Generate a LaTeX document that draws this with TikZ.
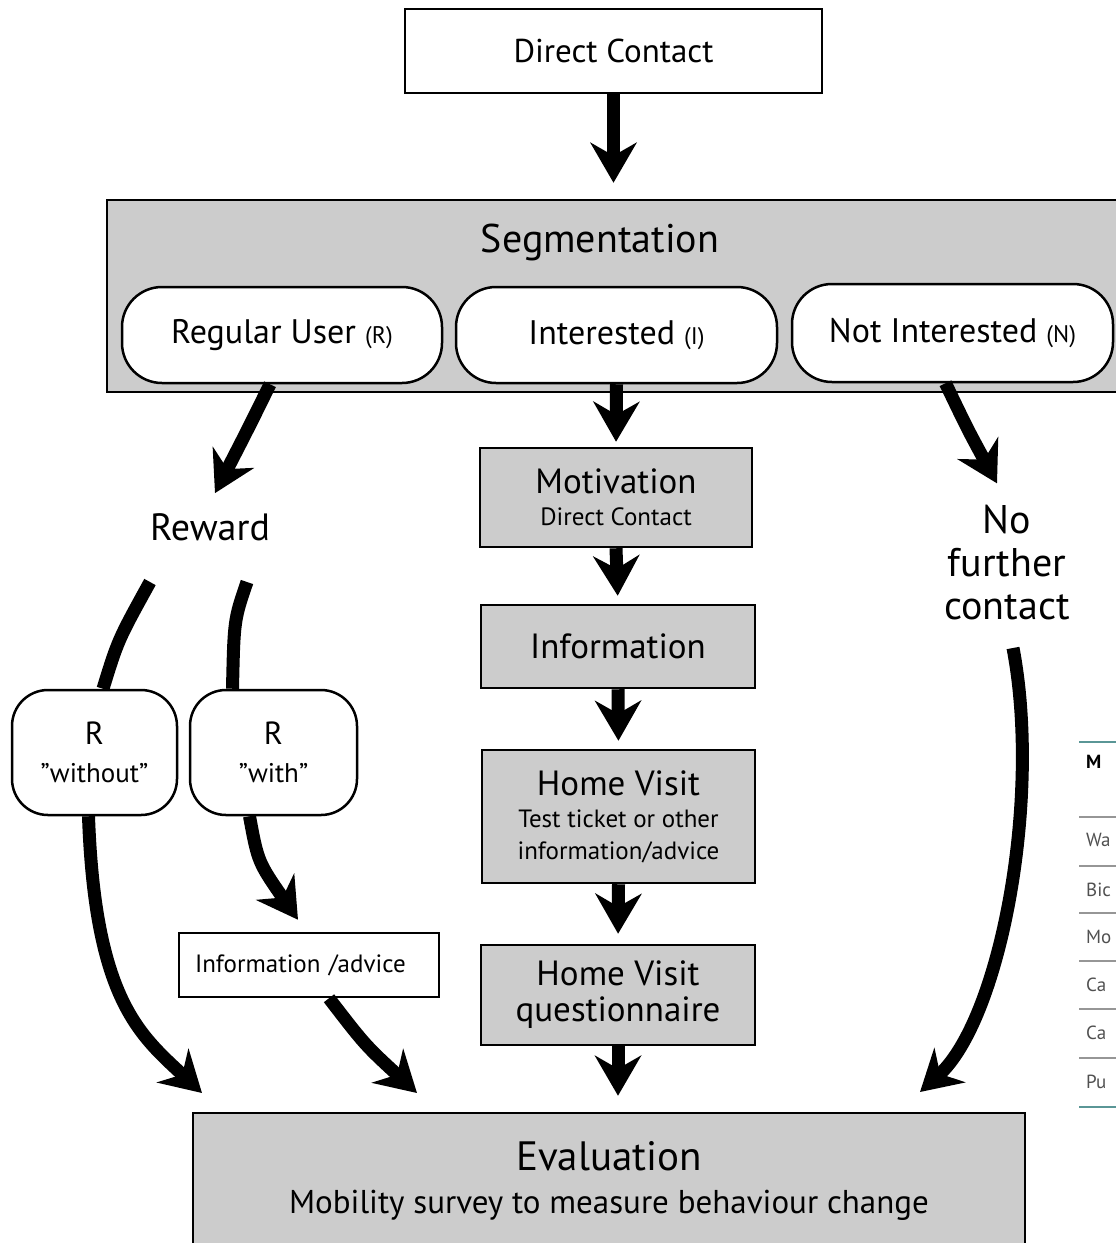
\documentclass[tikz,border=0pt]{standalone}
\usepackage{fontspec}
\setmainfont{PT Sans}
\usetikzlibrary{arrows.meta}
\definecolor{boxgray}{RGB}{204,204,204}
\definecolor{tealline}{RGB}{90,150,150}
\definecolor{tabgray}{RGB}{150,150,150}
\definecolor{tabtext}{RGB}{80,80,80}
\newcommand{\sq}{{\char34}}
\tikzset{
  box/.style={draw, line width=2.5pt, inner sep=0pt, align=center},
  graybox/.style={box, fill=boxgray},
  pill/.style={draw, line width=2.5pt, fill=white, rounded corners=40pt, inner sep=0pt, align=center},
  rbox/.style={draw, line width=2.5pt, fill=white, rounded corners=36pt, inner sep=0pt, align=center},
  plain/.style={inner sep=0pt, align=center},
  flow/.style={line width=13pt, -{Stealth[length=40pt,width=46pt,inset=13pt]}},
  thickline/.style={line width=13pt},
  tabrow/.style={anchor=west, inner sep=0pt, text=tabtext, font=\fontsize{19}{22}\selectfont},
  tabrule/.style={draw=tabgray, line width=2pt}
}
\begin{document}
\begin{tikzpicture}[x=1pt,y=-1pt]
\useasboundingbox (0,0) rectangle (1116,1243);
\clip (0,0) rectangle (1116,1243);

% top
\node[box, minimum width=417pt, minimum height=84pt, font=\fontsize{33}{38}\selectfont] (dc) at (613.5,51) {Direct Contact};

% segmentation
\node[graybox, minimum width=1018pt, minimum height=192pt] (seg) at (616,296) {};
\node[plain, font=\fontsize{40}{46}\selectfont] (segt) at (600,242) {Segmentation};
\node[pill, minimum width=320pt, minimum height=96pt] (ru) at (282,335) {\fontsize{34}{40}\selectfont Regular User \fontsize{24}{28}\selectfont(R)};
\node[pill, minimum width=321pt, minimum height=96pt] (int) at (616.5,335) {\fontsize{34}{40}\selectfont Interested \fontsize{24}{28}\selectfont(I)};
\node[pill, minimum width=321pt, minimum height=98pt] (ni) at (952.5,333) {\fontsize{34}{40}\selectfont Not Interested \fontsize{24}{28}\selectfont(N)};

% centre column
\node[graybox, minimum width=272pt, minimum height=99pt, font=\fontsize{25}{32}\selectfont] (mot) at (616,497.5)
  {\fontsize{35}{32}\selectfont Motivation\\Direct Contact};
\node[graybox, minimum width=274pt, minimum height=83pt, font=\fontsize{35}{40}\selectfont] (inf) at (618,646.5) {Information};
\node[graybox, minimum width=273pt, minimum height=133pt, font=\fontsize{25}{32}\selectfont] (hv) at (618.5,816.5)
  {\fontsize{35}{32}\selectfont Home Visit\\Test ticket or other\\information/advice};
\node[graybox, minimum width=274pt, minimum height=100pt, font=\fontsize{35}{36}\selectfont] (hq) at (618,995)
  {Home Visit\\questionnaire};

% evaluation
\node[graybox, minimum width=832pt, minimum height=160pt] (ev) at (609,1193) {};
\node[plain, font=\fontsize{33}{43}\selectfont] (evt) at (609,1181)
  {\fontsize{41}{43}\selectfont Evaluation\\Mobility survey to measure behaviour change};

% left branch
\node[plain, font=\fontsize{38}{44}\selectfont] (rw) at (210,527) {Reward};
\node[rbox, minimum width=165pt, minimum height=125pt, font=\fontsize{27}{38}\selectfont] (rwo) at (94.5,752.5)
  {\fontsize{32}{38}\selectfont R\\\sq without\sq};
\node[rbox, minimum width=167pt, minimum height=125pt, font=\fontsize{27}{38}\selectfont] (rwi) at (273.5,752.5)
  {\fontsize{32}{38}\selectfont R\\\sq with\sq};
\node[box, minimum width=260pt, minimum height=64pt, text width=228pt, align=left, font=\fontsize{25}{30}\selectfont] (ia) at (309,965) {Information /advice};

% right branch
\node[plain, font=\fontsize{40}{43}\selectfont] (nf) at (1007,563) {No\\further\\contact};

% free ends
\coordinate (rwa) at (150,582);
\coordinate (rwb) at (247,582);
\coordinate (nfa) at (1013,648);
\coordinate (e1) at (202,1093);
\coordinate (e2) at (417,1093);
\coordinate (e4) at (920,1092);

% straight arrows
\draw[flow, shorten >=16pt] (dc.south) -- (dc.south |- seg.north);
\draw[flow, shorten >=5pt] (int.south) -- (mot.north);
\draw[flow, shorten >=8pt] (mot.south) -- (inf.north);
\draw[flow, shorten >=8pt] (inf.south) -- (hv.north);
\draw[flow, shorten >=10pt] (hv.south) -- (hq.north);
\draw[flow, shorten >=16pt] (hq.south) -- (hq.south |- ev.north);

% left branch connectors
\draw[flow] ([xshift=-12pt]ru.south) .. controls (250,425) .. ([shift={(5pt,20pt)}]rw.north);
\draw[thickline] (rwa) .. controls (118,640) .. ([xshift=8.5pt]rwo.north);
\draw[thickline] (rwb) .. controls (234,620) .. ([xshift=-41pt]rwi.north);
\draw[flow] ([xshift=-6pt]rwo.south) .. controls (95,1000) and (140,1035) .. (e1);
\draw[flow] ([xshift=-24pt]rwi.south) .. controls (258,862) .. ([shift={(-11pt,12pt)}]ia.north);
\draw[flow] ([xshift=20pt]ia.south) .. controls (365,1045) .. (e2);

% right branch connectors
\draw[flow] ([xshift=-7pt]ni.south) .. controls (968,430) .. ([shift={(-10pt,22pt)}]nf.north);
\draw[flow] (nfa) .. controls (1042,800) and (1000,1020) .. (e4);

% table fragment at the right edge
\draw[draw=tealline, line width=2pt] (1079,742) -- (1120,742);
\node[tabrow, font=\fontsize{19}{22}\selectfont\bfseries, text=black] (tm) at (1086,762) {M};
\draw[tabrule] (1079,817) -- (1120,817);
\node[tabrow] (t1) at (1086,840) {Wa};
\draw[tabrule] (1079,866) -- (1120,866);
\node[tabrow] (t2) at (1086,890) {Bic};
\draw[tabrule] (1079,913) -- (1120,913);
\node[tabrow] (t3) at (1086,937) {Mo};
\draw[tabrule] (1079,961) -- (1120,961);
\node[tabrow] (t4) at (1086,985) {Ca};
\draw[tabrule] (1079,1009) -- (1120,1009);
\node[tabrow] (t5) at (1086,1033) {Ca};
\draw[tabrule] (1079,1058) -- (1120,1058);
\node[tabrow] (t6) at (1086,1082) {Pu};
\draw[draw=tealline, line width=2pt] (1079,1107) -- (1120,1107);
\end{tikzpicture}
\end{document}
